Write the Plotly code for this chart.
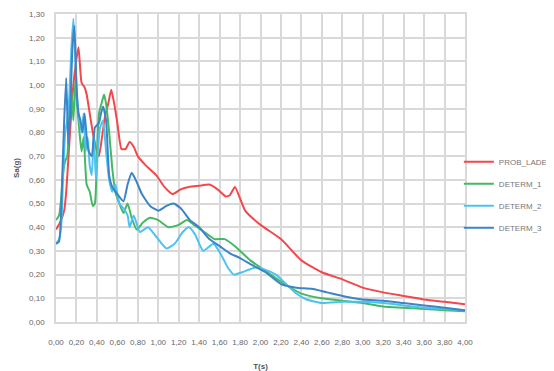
import plotly.graph_objects as go

# ---- data ----
names = ["PROB_LADE", "DETERM_1", "DETERM_2", "DETERM_3"]
colors = ["#F4474C", "#45B865", "#4CC2F1", "#3D84C6"]

t_prob = [0, 0.04, 0.08, 0.10, 0.13, 0.16, 0.19, 0.22, 0.25, 0.28, 0.30, 0.33, 0.36, 0.40, 0.42,
          0.45, 0.48, 0.51, 0.54, 0.57, 0.60, 0.64, 0.68, 0.72, 0.76, 0.80, 0.88, 0.98, 1.06,
          1.14, 1.22, 1.30, 1.40, 1.50, 1.58, 1.66, 1.70, 1.75, 1.85, 2.00, 2.20, 2.40, 2.60,
          2.80, 3.00, 3.20, 3.40, 3.60, 3.80, 4.00]
sa_prob = [0.39, 0.42, 0.47, 0.55, 0.75, 0.95, 1.08, 1.16, 1.01, 0.99, 0.96, 0.88, 0.80, 0.72, 0.70,
           0.78, 0.87, 0.92, 0.98, 0.92, 0.84, 0.73, 0.73, 0.76, 0.74, 0.70, 0.66, 0.62, 0.57,
           0.54, 0.56, 0.57, 0.575, 0.58, 0.56, 0.53, 0.535, 0.57, 0.47, 0.41, 0.35, 0.26, 0.21,
           0.18, 0.145, 0.125, 0.11, 0.095, 0.085, 0.075]

t_det1 = [0, 0.03, 0.05, 0.07, 0.09, 0.11, 0.13, 0.15, 0.17, 0.19, 0.21, 0.23, 0.25, 0.27, 0.30,
          0.33, 0.36, 0.38, 0.40, 0.42, 0.45, 0.47, 0.49, 0.52, 0.55, 0.58, 0.62, 0.66, 0.70,
          0.74, 0.79, 0.85, 0.92, 1.00, 1.10, 1.20, 1.28, 1.35, 1.45, 1.55, 1.65, 1.75, 1.90,
          2.00, 2.20, 2.40, 2.60, 2.80, 3.00, 3.20, 3.40, 3.60, 3.80, 4.00]
sa_det1 = [0.43, 0.45, 0.52, 0.63, 0.68, 0.70, 0.88, 0.98, 0.85, 1.02, 0.90, 0.80, 0.72, 0.78, 0.58,
           0.55, 0.49, 0.50, 0.70, 0.88, 0.93, 0.96, 0.92, 0.80, 0.65, 0.55, 0.50, 0.46, 0.50,
           0.44, 0.39, 0.42, 0.44, 0.43, 0.40, 0.41, 0.43, 0.41, 0.38, 0.35, 0.35, 0.32, 0.26,
           0.23, 0.17, 0.12, 0.10, 0.09, 0.08, 0.065, 0.06, 0.055, 0.05, 0.045]

t_det2 = [0, 0.03, 0.05, 0.07, 0.09, 0.11, 0.13, 0.15, 0.17, 0.19, 0.21, 0.23, 0.25, 0.27, 0.29,
          0.31, 0.33, 0.35, 0.37, 0.39, 0.41, 0.43, 0.46, 0.49, 0.52, 0.55, 0.58, 0.62, 0.66,
          0.70, 0.72, 0.76, 0.82, 0.90, 0.98, 1.08, 1.16, 1.24, 1.30, 1.36, 1.44, 1.54, 1.62,
          1.68, 1.74, 1.82, 1.95, 2.05, 2.15, 2.25, 2.35, 2.45, 2.60, 2.80, 3.00, 3.20, 3.40,
          3.60, 3.80, 4.00]
sa_det2 = [0.33, 0.35, 0.40, 0.62, 0.80, 0.85, 0.95, 1.15, 1.28, 1.10, 0.92, 0.85, 0.80, 0.88, 0.72,
           0.78, 0.66, 0.62, 0.80, 0.60, 0.72, 0.82, 0.85, 0.72, 0.60, 0.55, 0.58, 0.50, 0.48,
           0.45, 0.40, 0.45, 0.38, 0.40, 0.36, 0.31, 0.33, 0.38, 0.40, 0.37, 0.30, 0.33, 0.28,
           0.23, 0.20, 0.21, 0.23, 0.22, 0.20, 0.16, 0.12, 0.095, 0.08, 0.085, 0.085, 0.08, 0.07,
           0.06, 0.055, 0.05]

t_det3 = [0, 0.03, 0.06, 0.08, 0.10, 0.12, 0.14, 0.16, 0.18, 0.20, 0.22, 0.24, 0.26, 0.28, 0.30,
          0.32, 0.35, 0.38, 0.42, 0.44, 0.46, 0.49, 0.52, 0.55, 0.60, 0.66, 0.70, 0.74, 0.78,
          0.84, 0.92, 1.00, 1.08, 1.15, 1.22, 1.31, 1.40, 1.50, 1.60, 1.70, 1.80, 1.92, 2.05,
          2.20, 2.35, 2.50, 2.65, 2.80, 3.00, 3.20, 3.40, 3.60, 3.80, 4.00]
sa_det3 = [0.33, 0.34, 0.60, 0.85, 1.03, 0.75, 0.90, 1.15, 1.25, 1.00, 0.88, 0.85, 0.80, 0.88, 0.78,
           0.72, 0.70, 0.82, 0.84, 0.88, 0.91, 0.85, 0.62, 0.57, 0.54, 0.51, 0.58, 0.63, 0.60,
           0.54, 0.49, 0.47, 0.49, 0.50, 0.48, 0.43, 0.40, 0.35, 0.32, 0.29, 0.27, 0.24, 0.21,
           0.16, 0.145, 0.14, 0.125, 0.11, 0.095, 0.09, 0.08, 0.07, 0.06, 0.05]

series_t = [t_prob, t_det1, t_det2, t_det3]
series_sa = [sa_prob, sa_det1, sa_det2, sa_det3]

x_title = "T(s)"
y_title = "Sa(g)"

fig = go.Figure()
for name, color, tx, sy in zip(names, colors, series_t, series_sa):
    fig.add_trace(go.Scatter(
        x=tx, y=sy, name=name, mode="lines", legendgroup=name,
        line=dict(color=color, width=2, shape="spline", smoothing=0.5),
    ))

font_family = "Liberation Sans Narrow, Liberation Sans, Arial, sans-serif"
grid = "#D9D9D9"

# the page body keeps the browser's 8px margin, so the figure is 8px smaller
fig.update_layout(
    width=546, height=363,
    margin=dict(l=48, r=89, t=6, b=49, autoexpand=False),
    paper_bgcolor="white", plot_bgcolor="white",
    separators=",.",
    font=dict(family=font_family, size=8, color="#666666"),
    showlegend=True,
    legend=dict(
        x=0.985, xanchor="left", y=0.413, yanchor="middle",
        font=dict(size=8, color="#777777"),
        tracegroupgap=3, bgcolor="rgba(0,0,0,0)",
    ),
)
fig.update_xaxes(
    range=[0, 4], dtick=0.2, tick0=0, tickformat=".2f",
    showgrid=True, gridcolor=grid, gridwidth=1.5,
    showline=True, linecolor=grid, linewidth=1.5, mirror=True,
    zeroline=False, ticks="", ticklabelstandoff=12,
    tickfont=dict(size=8, color="#666666"),
    title=dict(text="<b>" + x_title + "</b>", font=dict(size=8, color="#555555"), standoff=17),
)
fig.update_yaxes(
    range=[0, 1.3], dtick=0.1, tick0=0, tickformat=".2f",
    showgrid=True, gridcolor=grid, gridwidth=1.5,
    showline=True, linecolor=grid, linewidth=1.5, mirror=True,
    zeroline=False, ticks="", ticklabelstandoff=8,
    tickfont=dict(size=8, color="#666666"),
    title=dict(text="<b>" + y_title + "</b>", font=dict(size=8, color="#555555"), standoff=8),
)

fig.write_html("out.html")
